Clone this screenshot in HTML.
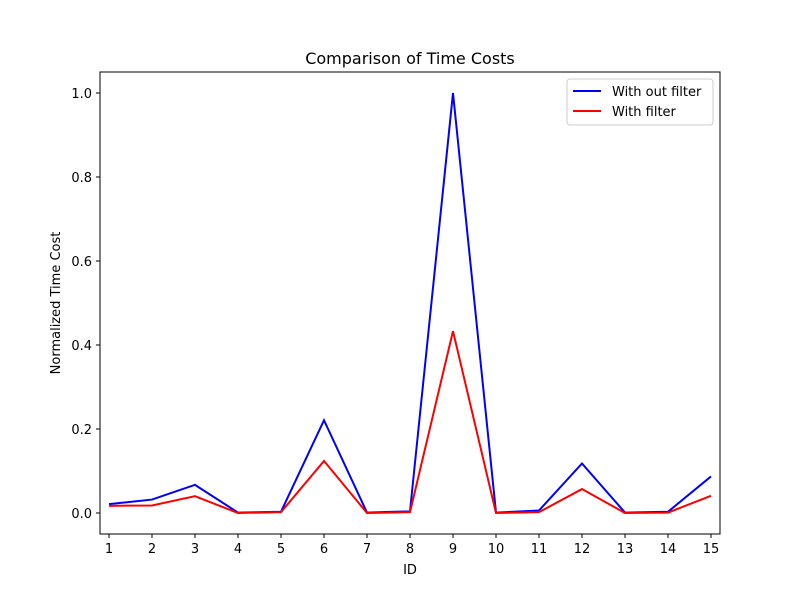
<!DOCTYPE html>
<html><head><meta charset="utf-8"><style>
body{margin:0;background:#fff}
svg text{font-family:"DejaVu Sans","Liberation Sans",sans-serif;fill:#000}
</style></head><body>
<svg id="chart" width="800" height="600" xmlns="http://www.w3.org/2000/svg">
<rect width="800" height="600" fill="#fff"/>
<g id="ticks"></g>
<g id="lines"></g>
<rect x="100" y="72" width="620" height="462" fill="none" stroke="#000" stroke-width="1"/>
<text x="410" y="64" font-size="16" text-anchor="middle">Comparison of Time Costs</text>
<text x="410" y="574" font-size="13" text-anchor="middle">ID</text>
<text transform="translate(60,303) rotate(-90)" font-size="13" text-anchor="middle">Normalized Time Cost</text>
<g>
<rect x="567" y="79" width="146" height="46" rx="3" fill="#fff" stroke="#ccc"/>
<g>
<line x1="573" y1="91" x2="601" y2="91" stroke="#0000ff" stroke-width="2"/>
<text x="612" y="96" font-size="13">With out filter</text></g>
<g>
<line x1="573" y1="111" x2="601" y2="111" stroke="#ff0000" stroke-width="2"/>
<text x="612" y="116" font-size="13">With filter</text></g>
</g>
</svg>
<script>
const ids=[1,2,3,4,5,6,7,8,9,10,11,12,13,14,15];
const withoutFilter=[0.021,0.032,0.067,0.001,0.003,0.221,0.001,0.004,1.0,0.001,0.006,0.118,0.001,0.003,0.087];
const withFilter=[0.017,0.018,0.040,0.0,0.002,0.124,0.0,0.002,0.433,0.0,0.002,0.057,0.0,0.001,0.041];
const yTicks=[0,0.2,0.4,0.6,0.8,1.0];
const yTickLabels=["0.0","0.2","0.4","0.6","0.8","1.0"];
const NS="http://www.w3.org/2000/svg";
function xs(v){return 109+(v-1)*43;}
function ys(v){return 513-v*420;}
const tg=document.getElementById('ticks');
ids.forEach(v=>{
 const l=document.createElementNS(NS,'line');
 l.setAttribute('x1',xs(v));l.setAttribute('x2',xs(v));l.setAttribute('y1',534);l.setAttribute('y2',538);l.setAttribute('stroke','#000');
 
 
 tg.appendChild(l);
 const t=document.createElementNS(NS,'text');
 t.setAttribute('x',xs(v));t.setAttribute('y',553);t.setAttribute('font-size','13');t.setAttribute('text-anchor','middle');t.textContent=v;
 
 
 tg.appendChild(t);
});
yTicks.forEach((v,i)=>{
 const l=document.createElementNS(NS,'line');
 l.setAttribute('x1',96);l.setAttribute('x2',100);l.setAttribute('y1',ys(v));l.setAttribute('y2',ys(v));l.setAttribute('stroke','#000');
 
 
 tg.appendChild(l);
 const t=document.createElementNS(NS,'text');
 t.setAttribute('x',92);t.setAttribute('y',ys(v)+5);t.setAttribute('font-size','13');t.setAttribute('text-anchor','end');t.textContent=yTickLabels[i];
 
 
 tg.appendChild(t);
});
const lg=document.getElementById('lines');
function drawLine(vals,color,name){
 const p=document.createElementNS(NS,'polyline');
 p.setAttribute('points',vals.map((v,i)=>xs(ids[i])+','+ys(v)).join(' '));
 p.setAttribute('fill','none');p.setAttribute('stroke',color);p.setAttribute('stroke-width','2');
 
 
 lg.appendChild(p);
}
drawLine(withoutFilter,'#0000ff','line-without-filter');
drawLine(withFilter,'#ff0000','line-with-filter');
</script>
</body></html>
